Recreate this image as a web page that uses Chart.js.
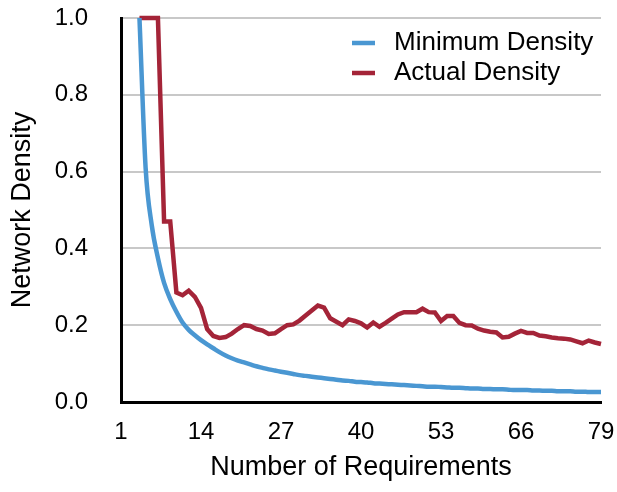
<!DOCTYPE html>
<html>
<head>
<meta charset="utf-8">
<title>Network Density</title>
<script src="https://cdn.jsdelivr.net/npm/chart.js@4.4.1/dist/chart.umd.min.js"></script>
<style>
	html, body { margin: 0; padding: 0; background: #fff; }
	#densityChart { display: block; }
</style>
</head>
<body>
<canvas id="densityChart" width="617" height="492"></canvas>
<script>
// x = number of requirements
var requirements = [
	1, 2, 3, 4, 5, 6, 7, 8, 9, 10,
	11, 12, 13, 14, 15, 16, 17, 18, 19, 20,
	21, 22, 23, 24, 25, 26, 27, 28, 29, 30,
	31, 32, 33, 34, 35, 36, 37, 38, 39, 40,
	41, 42, 43, 44, 45, 46, 47, 48, 49, 50,
	51, 52, 53, 54, 55, 56, 57, 58, 59, 60,
	61, 62, 63, 64, 65, 66, 67, 68, 69, 70,
	71, 72, 73, 74, 75, 76, 77, 78, 79
];

var minDensity = [
	null, null, null, 1.0, 0.61, 0.46, 0.375, 0.31, 0.268, 0.235,
	0.207, 0.188, 0.174, 0.161, 0.15, 0.14, 0.13, 0.121, 0.114, 0.108,
	0.103, 0.098, 0.093, 0.089, 0.085, 0.082, 0.079, 0.076, 0.073, 0.070,
	0.068, 0.066, 0.064, 0.062, 0.060, 0.058, 0.056, 0.055, 0.053, 0.052,
	0.051, 0.049, 0.048, 0.047, 0.046, 0.045, 0.044, 0.043, 0.042, 0.041,
	0.040, 0.040, 0.039, 0.038, 0.037, 0.037, 0.036, 0.035, 0.035, 0.034,
	0.034, 0.033, 0.033, 0.032, 0.031, 0.031, 0.031, 0.030, 0.030, 0.029,
	0.029, 0.028, 0.028, 0.028, 0.027, 0.027, 0.026, 0.026, 0.026
];

var actualDensity = [
	null, null, null, 1.0, 1.0, 1.0, 1.0, 0.47, 0.47, 0.285,
	0.278, 0.29, 0.274, 0.245, 0.19, 0.172, 0.167, 0.169, 0.178, 0.19,
	0.2, 0.198, 0.19, 0.186, 0.177, 0.179, 0.19, 0.2, 0.202, 0.212,
	0.225, 0.238, 0.251, 0.246, 0.218, 0.209, 0.2, 0.215, 0.211, 0.205,
	0.194, 0.207, 0.196, 0.206, 0.217, 0.228, 0.234, 0.234, 0.234, 0.243,
	0.234, 0.233, 0.211, 0.224, 0.224, 0.206, 0.2, 0.199, 0.191, 0.186,
	0.183, 0.181, 0.168, 0.17, 0.178, 0.185, 0.18, 0.18, 0.173, 0.171,
	0.168, 0.166, 0.165, 0.163, 0.158, 0.153, 0.16, 0.155, 0.151
];

var xTicks = [1, 14, 27, 40, 53, 66, 79];
var yTicks = [0, 0.2, 0.4, 0.6, 0.8, 1.0];

var blue = "rgb(74, 151, 210)";
var red = "rgb(164, 36, 56)";

Chart.defaults.font.family = "'Liberation Sans', Arial, Helvetica, sans-serif";
Chart.defaults.color = "#000";

// legend sits inside the plot, top right
var insideLegend = {
	id: 'insideLegend',
	afterDatasetsDraw: function(chart) {
		var ctx = chart.ctx;
		var area = chart.chartArea;
		chart.data.datasets.forEach(function(ds, i) {
			var y = area.top + 25 + i * 30;
			var x = area.right - 249;
			ctx.save();
			ctx.strokeStyle = ds.borderColor;
			ctx.lineWidth = 4.5;
			ctx.beginPath();
			ctx.moveTo(x, y);
			ctx.lineTo(x + 23, y);
			ctx.stroke();
			ctx.fillStyle = "#000";
			ctx.font = "26px 'Liberation Sans', Arial, sans-serif";
			ctx.textBaseline = "middle";
			ctx.fillText(ds.label, x + 42, y);
			ctx.restore();
		});
	}
};

var ctx = document.getElementById("densityChart");

var densityChart = new Chart(ctx, {
	type: 'line',
	data: {
		labels: requirements,
		datasets: [
			{
				label: 'Minimum Density',
				data: minDensity,
				borderColor: blue,
				backgroundColor: blue,
				borderWidth: 4.5,
				pointRadius: 0,
				cubicInterpolationMode: 'monotone',
				clip: 6
			},
			{
				label: 'Actual Density',
				data: actualDensity,
				borderColor: red,
				backgroundColor: red,
				borderWidth: 4.5,
				pointRadius: 0,
				tension: 0,
				clip: 6
			}
		]
	},
	options: {
		responsive: false,
		animation: false,
		layout: { padding: { top: 18, right: 16, left: 0, bottom: 0 } },
		plugins: {
			legend: { display: false },
			tooltip: { enabled: false }
		},
		scales: {
			x: {
				type: 'linear',
				min: 1,
				max: 79,
				afterBuildTicks: function(scale) {
					scale.ticks = xTicks.map(function(v) { return { value: v }; });
				},
				afterFit: function(scale) {
					scale.height = 90;
					scale.paddingLeft = 10;
					scale.paddingRight = 10;
				},
				ticks: {
					padding: 16,
					maxRotation: 0,
					autoSkip: false,
					font: { size: 24 }
				},
				grid: { display: true, color: 'rgba(0,0,0,0)', drawTicks: false },
				border: { display: true, color: '#000', width: 3 },
				title: {
					display: true,
					text: 'Number of Requirements',
					font: { size: 27 },
					padding: { top: 4, bottom: 8 }
				}
			},
			y: {
				min: 0,
				max: 1,
				afterBuildTicks: function(scale) {
					scale.ticks = yTicks.map(function(v) { return { value: v }; });
				},
				afterFit: function(scale) {
					scale.width = 121;
					scale.paddingTop = 10;
					scale.paddingBottom = 10;
				},
				ticks: {
					padding: 33,
					font: { size: 24 },
					callback: function(v) { return Number(v).toFixed(1); }
				},
				grid: { color: '#c8c8c8', lineWidth: 2, drawTicks: false },
				border: { display: true, color: '#000', width: 3 },
				title: {
					display: true,
					text: 'Network Density',
					font: { size: 27 },
					padding: { top: 6 }
				}
			}
		}
	},
	plugins: [insideLegend]
});
</script>
</body>
</html>
